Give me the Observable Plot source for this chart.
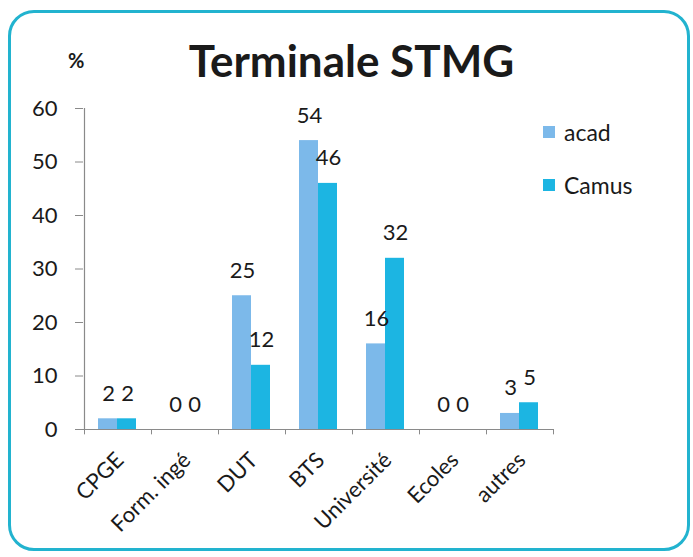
<!DOCTYPE html>
<html>
<head>
<meta charset="utf-8">
<script src="https://cdn.jsdelivr.net/npm/d3@7"></script>
<script src="https://cdn.jsdelivr.net/npm/@observablehq/plot@0.6"></script>
<style>
  body { margin: 0; background: #fff; }
  #wrap { position: relative; width: 693px; height: 557px; background: #fff; overflow: hidden; font-family: Lato, "Open Sans", sans-serif; color: #1a1a1a; }
  #border { position: absolute; left: 8px; top: 10px; right: 3px; bottom: 6px; border: 3px solid #22b3cf; border-radius: 26px; box-sizing: border-box; }
  #plot { position: absolute; left: 0; top: 0; }
  #title { position: absolute; left: 0; width: 703px; top: 34px; text-align: center; font-size: 44px; font-weight: 700; }
  #pct { position: absolute; left: 68px; top: 48px; font-size: 20px; font-weight: 700; }
  .leg { position: absolute; left: 543px; font-size: 23px; display: flex; align-items: center; line-height: 28px; }
  .leg span.sw { display: inline-block; width: 12px; height: 12px; margin-right: 9px; }
</style>
</head>
<body>
<div id="wrap">
  <div id="border"></div>
  <div id="plot"></div>
  <div id="title">Terminale STMG</div>
  <div id="pct">%</div>
  <div class="leg" style="top:118px"><span class="sw" style="background:#7cb9ea"></span>acad</div>
  <div class="leg" style="top:171px"><span class="sw" style="background:#1cb5e2"></span>Camus</div>
</div>
<script>
const categories = ["CPGE", "Form. ingé", "DUT", "BTS", "Université", "Ecoles", "autres"];
const acad = [2, 0, 25, 54, 16, 0, 3];
const camus = [2, 0, 12, 46, 32, 0, 5];
const yTicks = [0, 10, 20, 30, 40, 50, 60];
const colors = { acad: "#7cb9ea", Camus: "#1cb5e2" };

const dataAcad = categories.map((c, i) => ({ cat: c, v: acad[i] }));
const dataCamus = categories.map((c, i) => ({ cat: c, v: camus[i] }));
const half = 33.5;

const chart = Plot.plot({
  width: 693,
  height: 557,
  marginLeft: 83,
  marginRight: 140,
  marginTop: 108,
  marginBottom: 128,
  style: { fontFamily: "Lato, 'Open Sans', sans-serif", color: "#1a1a1a", background: "transparent" },
  x: { domain: categories, padding: 0 },
  y: { domain: [0, 60] },
  marks: [
    Plot.barY(dataAcad, { x: "cat", y: "v", fill: colors.acad, insetLeft: 14, insetRight: 34 }),
    Plot.barY(dataCamus, { x: "cat", y: "v", fill: colors.Camus, insetLeft: 33, insetRight: 15 }),
    Plot.text(dataAcad, { x: "cat", y: "v", text: d => String(d.v), dx: -9.5, dy: -25, fontSize: 22, fill: "#1a1a1a" }),
    Plot.text(dataCamus, { x: "cat", y: "v", text: d => String(d.v), dx: 9.5, dy: -25, fontSize: 22, fill: "#1a1a1a" }),
    Plot.ruleY([0], { stroke: "#8a8a8a", strokeWidth: 1.2 }),
    Plot.ruleX([categories[0]], { dx: -half, y1: 0, y2: 60, stroke: "#8a8a8a", strokeWidth: 1.2 }),
    Plot.ruleX(categories, { dx: -half, y1: 0, y2: -1, stroke: "#8a8a8a" }),
    Plot.ruleX([categories[categories.length - 1]], { dx: half, y1: 0, y2: -1, stroke: "#8a8a8a" }),
    Plot.axisY({ ticks: yTicks, tickSize: 8, tickPadding: 18, fontSize: 22, stroke: "#8a8a8a", fill: "#1a1a1a", label: null }),
    Plot.axisX({ tickSize: 0, tickPadding: 22, tickRotate: -45, dx: 2, dy: 5, fontSize: 22, fill: "#1a1a1a", label: null })
  ]
});
document.getElementById("plot").appendChild(chart);
</script>
</body>
</html>
